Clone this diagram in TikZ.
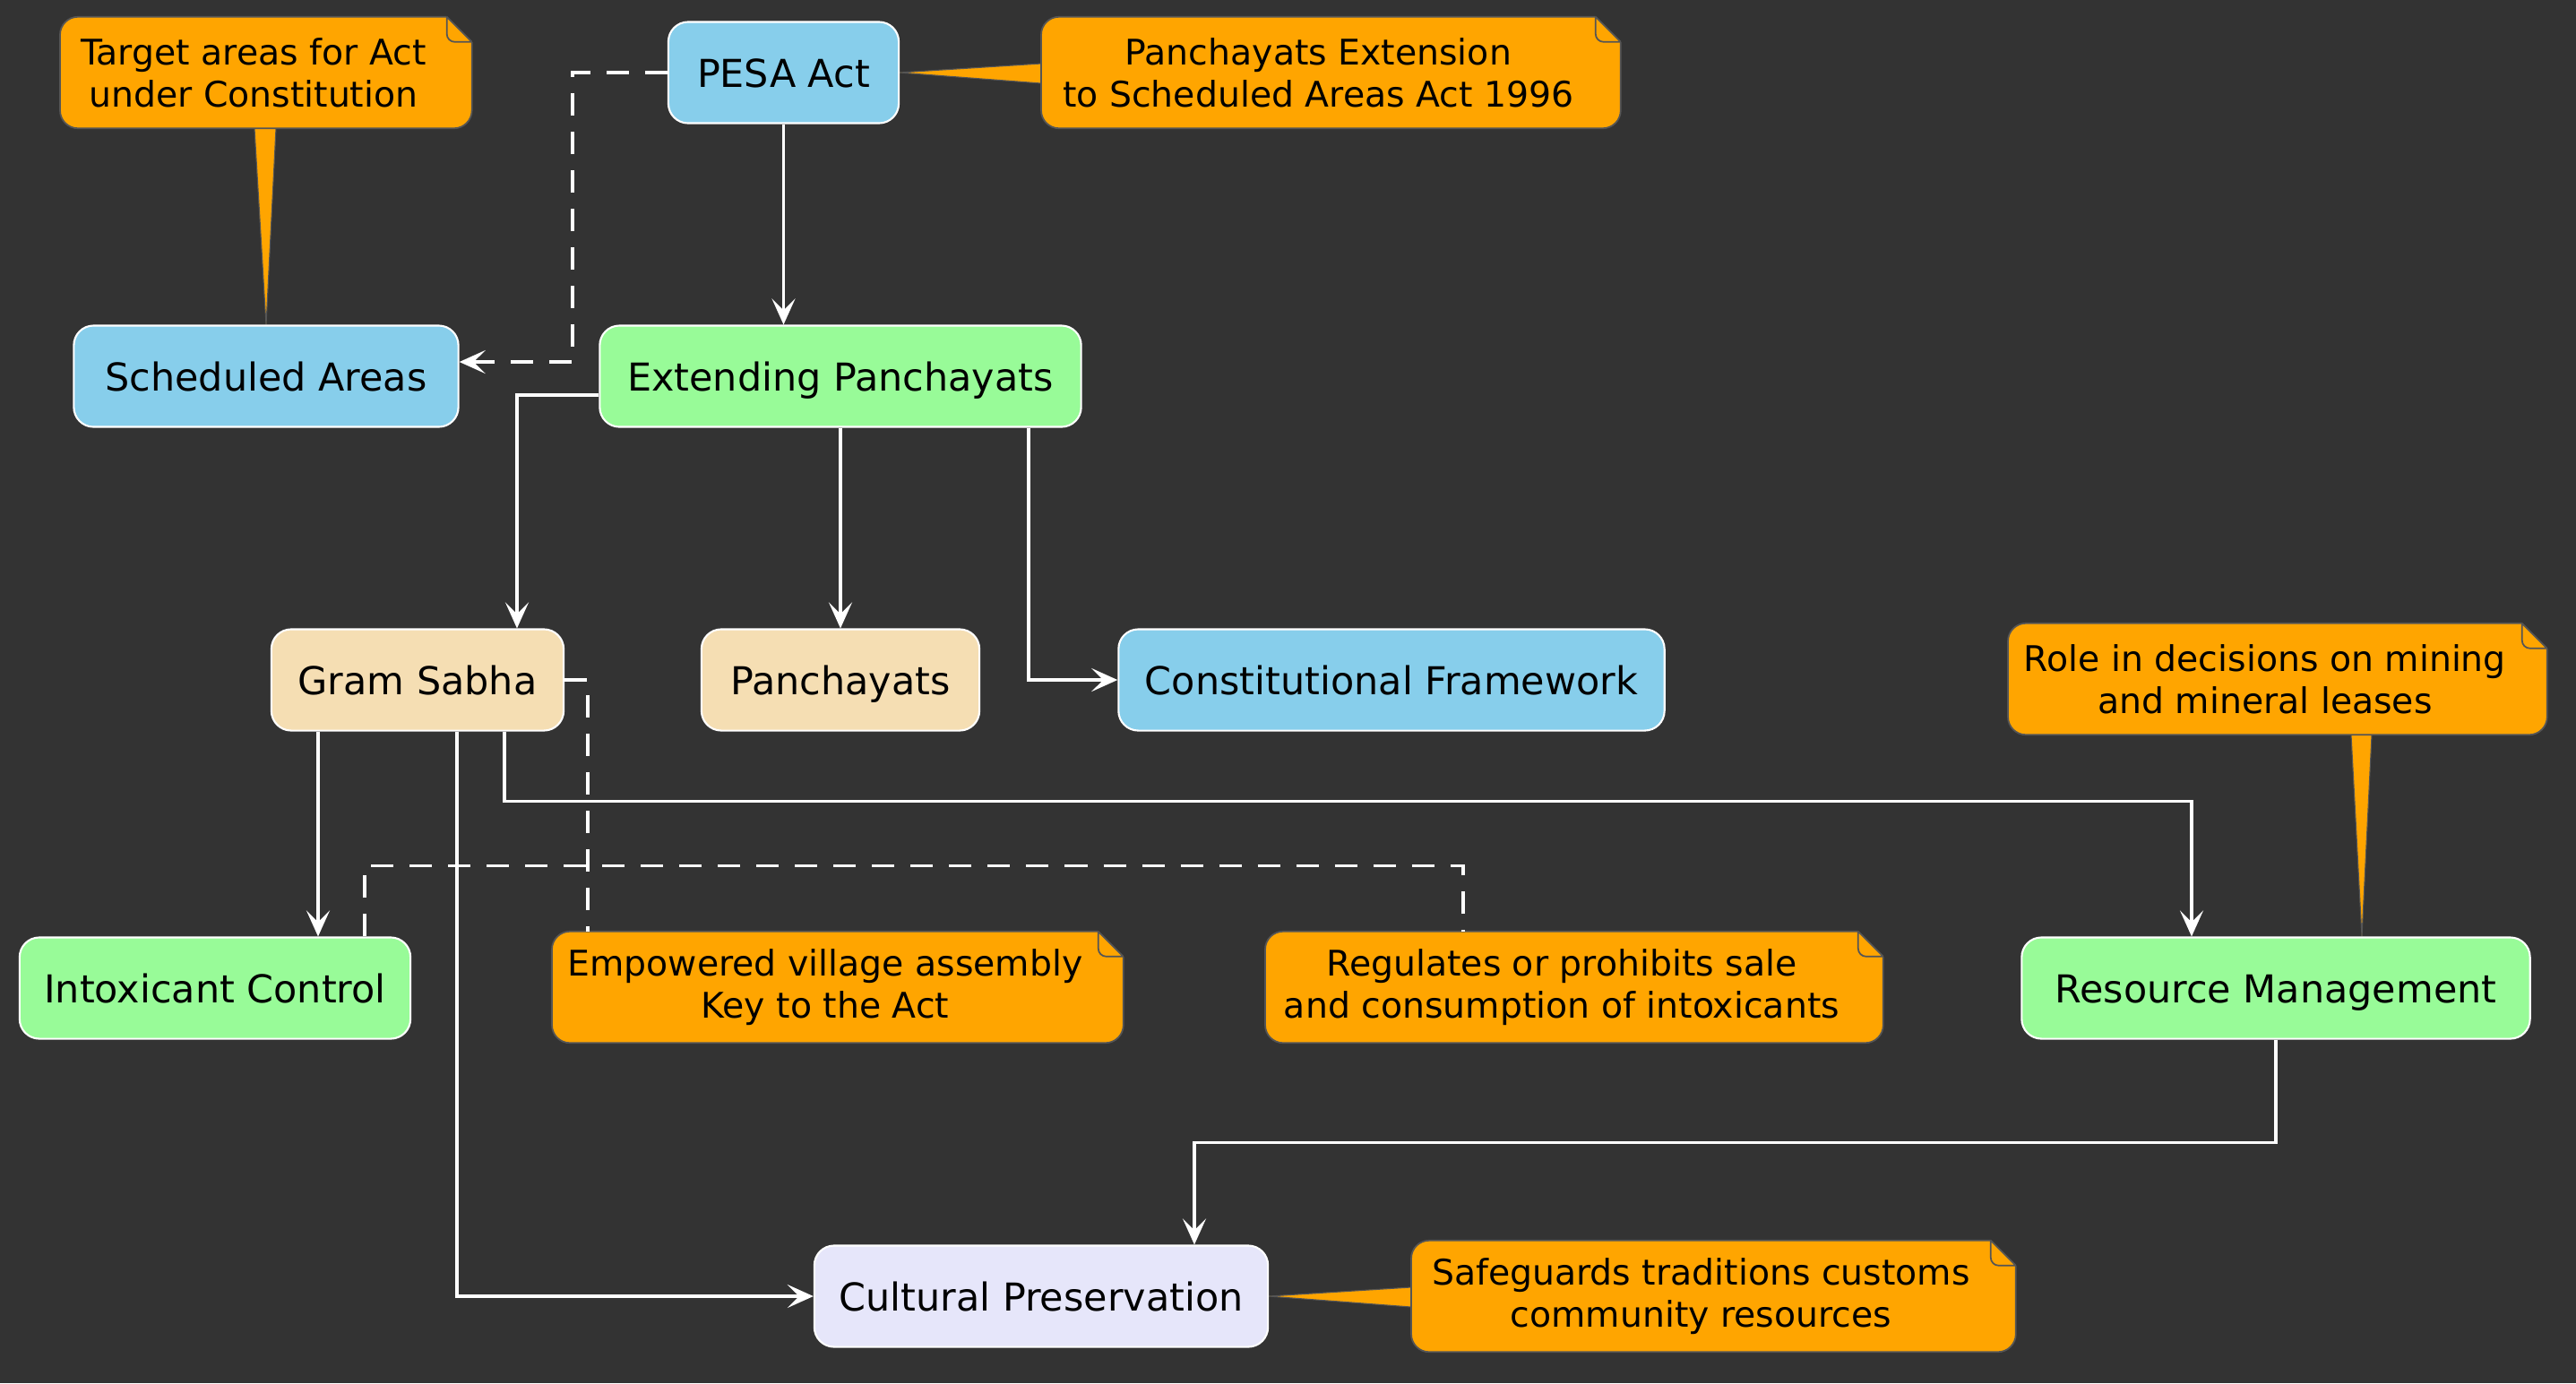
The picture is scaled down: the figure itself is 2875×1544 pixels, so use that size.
\documentclass[tikz,border=0pt]{standalone}
\usepackage{fontspec}
\setmainfont{DejaVu Sans}
\usetikzlibrary{positioning,arrows.meta,calc,backgrounds}

\definecolor{bgcol}{HTML}{333333}
\definecolor{skycol}{HTML}{87CEEB}
\definecolor{greencol}{HTML}{98FB98}
\definecolor{wheatcol}{HTML}{F5DEB3}
\definecolor{lavcol}{HTML}{E6E6FA}
\definecolor{notecol}{HTML}{FFA500}
\definecolor{notegray}{HTML}{555555}

% folded note body behind a note node
\newcommand{\drawnote}[1]{%
  \draw[notefill] let \p1=(#1.north west), \p2=(#1.south east) in
    (\x1,\y1) rectangle (\x2+0.28cm,\y2);
  \fill[bgcol] let \p1=(#1.north west), \p2=(#1.south east) in
    (\x2,\y1) -- (\x2,\y1+2pt) -- (\x2+0.28cm+2pt,\y1+2pt)
    -- (\x2+0.28cm+2pt,\y1-0.28cm) -- (\x2+0.28cm,\y1-0.28cm) -- cycle;
  \draw[notegray, line width=0.5pt] let \p1=(#1.north west), \p2=(#1.south east) in
    (\x2,\y1) -- (\x2+0.28cm,\y1-0.28cm)
    (\x2,\y1) -- (\x2,\y1-0.19cm) to[out=-90,in=180] (\x2+0.09cm,\y1-0.28cm) -- (\x2+0.28cm,\y1-0.28cm);
}

\begin{document}
\begin{tikzpicture}[x=0.01cm, y=-0.01cm,
  >={Stealth[length=0.29cm,width=0.26cm,inset=0.13cm]},
  box/.style={draw=white, line width=0.6pt, rounded corners=0.22cm,
    minimum height=1.13cm, inner xsep=0.2cm, text=black,
    text height=12.2pt, text depth=3pt,
    font=\fontsize{12.2}{14.5}\selectfont},
  skybox/.style={box, fill=skycol},
  greenbox/.style={box, fill=greencol},
  wheatbox/.style={box, fill=wheatcol},
  lavbox/.style={box, fill=lavcol},
  note/.style={anchor=west, align=center, inner xsep=0.1cm, minimum height=1.23cm,
    text=black, font=\fontsize{11.2}{13.3}\selectfont},
  notefill/.style={fill=notecol, draw=notegray, line width=0.5pt, rounded corners=0.2cm},
  tail/.style={fill=notecol, draw=notegray, line width=0.3pt},
  link/.style={->, white, line width=1pt},
  dlink/.style={link, dash pattern=on 0.25cm off 0.18cm},
  dnote/.style={white, line width=1pt, dash pattern=on 0.25cm off 0.18cm},
  ]
  \useasboundingbox (0,0) rectangle (2875,1544);

  \node[skybox, minimum width=2.57cm] (pesa) at (874.5,81) {PESA Act};
  \node[skybox, minimum width=4.29cm] (sched) at (297,420) {Scheduled Areas};
  \node[greenbox, minimum width=5.37cm] (extend) at (938,420) {Extending Panchayats};
  \node[wheatbox, minimum width=3.26cm] (gram) at (466,759) {Gram Sabha};
  \node[wheatbox, minimum width=3.10cm] (panch) at (938,759) {Panchayats};
  \node[skybox, minimum width=6.09cm] (frame) at (1553,759) {Constitutional Framework};
  \node[greenbox, minimum width=4.36cm] (intox) at (240,1103) {Intoxicant Control};
  \node[greenbox, minimum width=5.67cm] (res) at (2540,1103) {Resource Management};
  \node[lavbox, minimum width=5.06cm] (cult) at (1162,1447) {Cultural Preservation};

  \node[note, minimum width=4.30cm] (nTarget) at (67,81) {Target areas for Act\\under Constitution};
  \node[note, minimum width=6.17cm] (nPesa) at (1162,81) {Panchayats Extension\\to Scheduled Areas Act 1996};
  \node[note, minimum width=5.72cm] (nRole) at (2241,758) {Role in decisions on mining\\and mineral leases};
  \node[note, minimum width=6.08cm] (nGram) at (616,1102) {Empowered village assembly\\Key to the Act};
  \node[note, minimum width=6.60cm] (nIntox) at (1412,1102) {Regulates or prohibits sale\\and consumption of intoxicants};
  \node[note, minimum width=6.45cm] (nCult) at (1575,1447) {Safeguards traditions customs\\community resources};

  \begin{scope}[on background layer]
    \fill[bgcol] (0,0) rectangle (2875,1544);
    \filldraw[tail] ($(nTarget.south west)+(217,0)$) -- (sched.north) -- ($(nTarget.south west)+(241,0)$) -- cycle;
    \filldraw[tail] ($(nPesa.west)+(0,-10)$) -- (pesa.east) -- ($(nPesa.west)+(0,12)$) -- cycle;
    \filldraw[tail] ($(nRole.south west)+(383,0)$) -- ($(res.north)+(96,0)$) -- ($(nRole.south west)+(406,0)$) -- cycle;
    \filldraw[tail] ($(nCult.west)+(0,-10)$) -- (cult.east) -- ($(nCult.west)+(0,12)$) -- cycle;
    \foreach \nm in {nTarget,nPesa,nRole,nGram,nIntox,nCult}
      {\drawnote{\nm}}
  \end{scope}

  \coordinate (g1) at ($(gram.south)+(-111,0)$);
  \coordinate (g2) at ($(gram.south)+(44,0)$);
  \coordinate (g3) at ($(gram.south)+(97,0)$);
  \coordinate (g4) at ($(gram.east)+(26,0)$);
  \coordinate (i1) at ($(intox.north)+(167,0)$);

  \draw[link] (pesa) -- (pesa |- extend.north);
  \draw[dlink] (pesa.west) -- ++(-106,0) |- ($(sched.east)+(0,-16)$);
  \draw[link] ($(extend.west)+(0,21)$) -| ($(gram.north)+(111,0)$);
  \draw[link] (extend) -- (extend |- panch.north);
  \draw[link] ($(extend.south)+(210,0)$) |- (frame.west);
  \draw[link] (g1) -- (g1 |- intox.north);
  \draw[link] (g2) |- (cult.west);
  \draw[link] (g3) -- ++(0,78) -| ($(res.north)+(-94,0)$);
  \draw[link] (res.south) -- ++(0,115) -| ($(cult.north)+(171,0)$);
  \draw[dnote] (gram.east) -- (g4) -- (g4 |- nGram.north);
  \draw[dnote] (i1) -- ++(0,-79) -| ($(nIntox.north west)+(221,0)$);
\end{tikzpicture}
\end{document}
